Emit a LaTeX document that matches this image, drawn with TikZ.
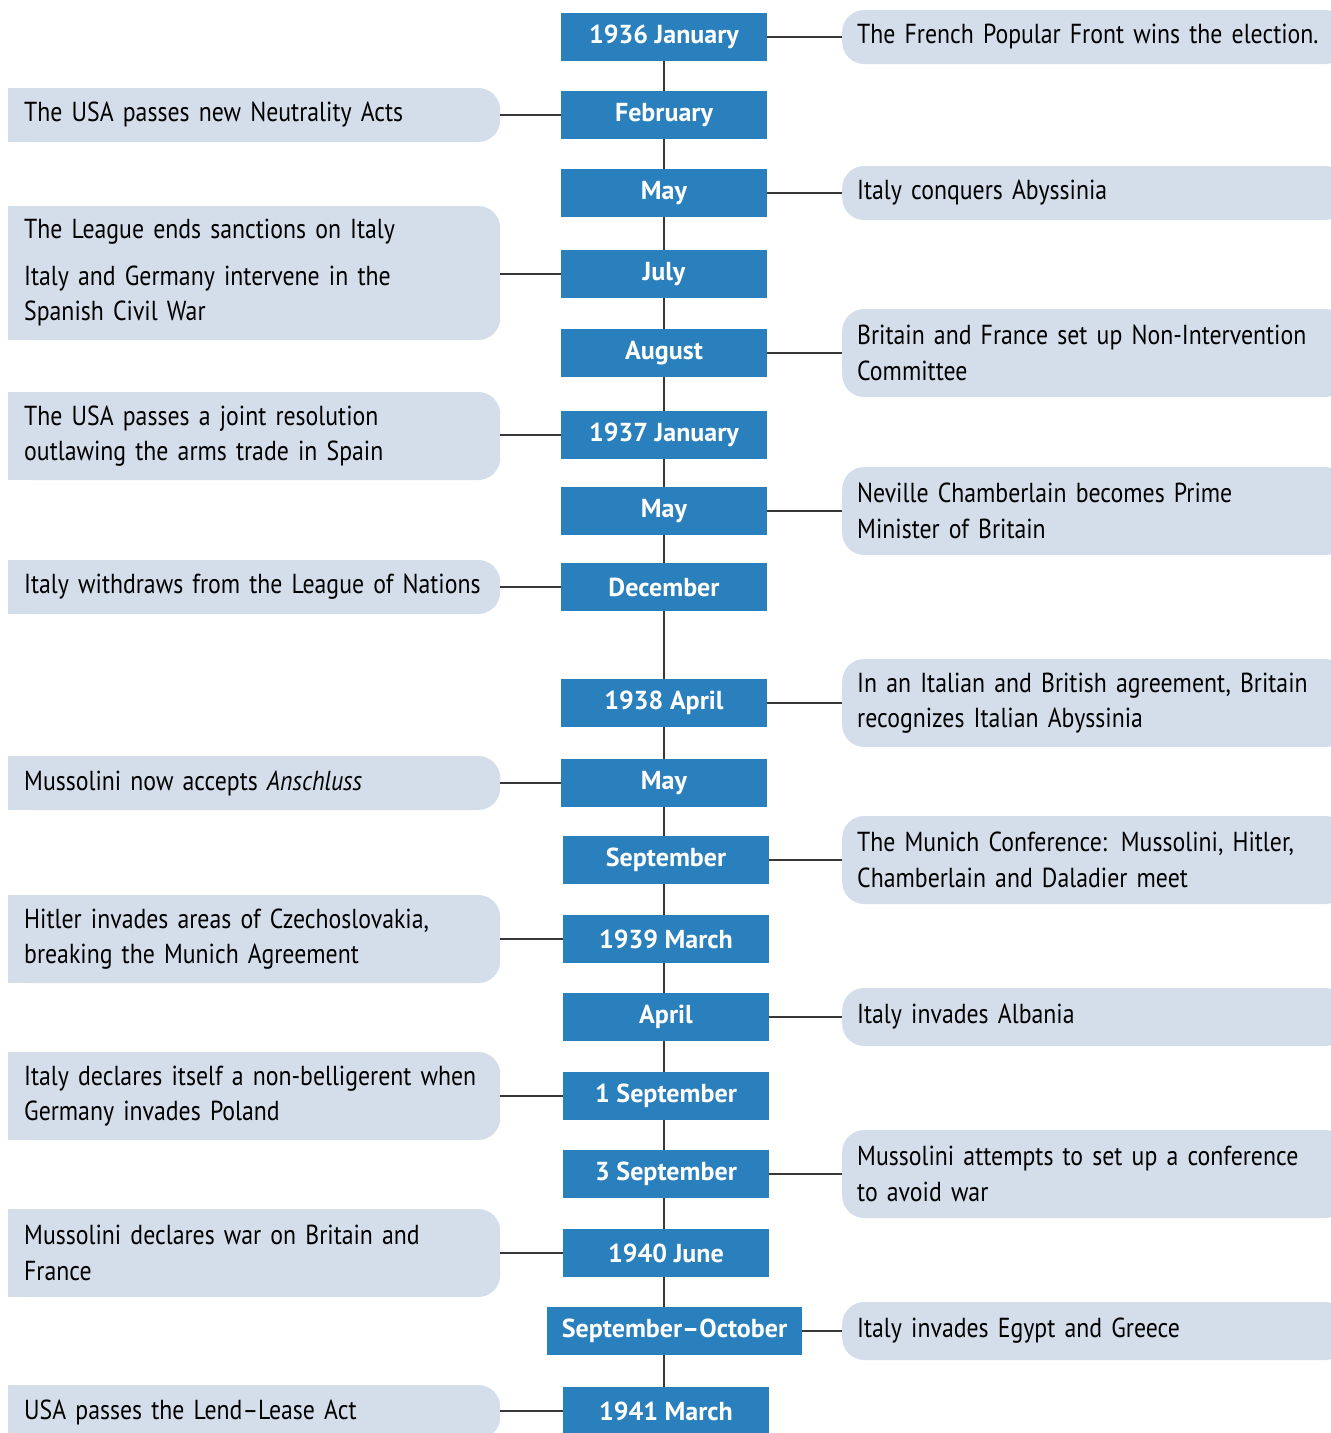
\documentclass[tikz,border=0pt]{standalone}
\usepackage{fontspec}
\setmainfont{PT Sans}[FakeStretch=0.865]
\newfontfamily\datefont{PT Sans}[Ligatures=TeX]
\usetikzlibrary{positioning,backgrounds}

\definecolor{dateblue}{RGB}{42,127,189}
\definecolor{eventbg}{RGB}{211,222,234}
\definecolor{linegray}{RGB}{55,55,55}

\begin{document}
\begin{tikzpicture}[
    x=1pt, y=-1pt,
    date/.style={rectangle, fill=dateblue, text=white, minimum width=206pt, minimum height=48pt, inner sep=0pt, font=\datefont\fontsize{26}{30}\selectfont\bfseries},
    leftev/.style={rectangle, rounded corners=22pt, fill=eventbg, anchor=west, minimum width=492pt, minimum height=54pt, inner xsep=4pt, text width=484pt, align=left, execute at begin node={\leftskip=12pt}, font=\fontsize{27.5}{35.5}\selectfont},
    rightev/.style={leftev, minimum width=505pt, text width=497pt, execute at begin node={\leftskip=11pt}},
    tall/.style={minimum height=88pt},
    link/.style={draw=linegray, line width=2pt},
]
\useasboundingbox (0,0) rectangle (1331,1433);

% Dates
\node[date] (d1) at (664,37) {1936 January};
\node[date] (d2) at (664,115) {February};
\node[date] (d3) at (664,193) {May};
\node[date] (d4) at (664,274) {July};
\node[date] (d5) at (664,353) {August};
\node[date] (d6) at (664,435) {1937 January};
\node[date] (d7) at (664,511) {May};
\node[date] (d8) at (664,587) {December};
\node[date] (d9) at (664,703) {1938 April};
\node[date] (d10) at (664,783) {May};
\node[date] (d11) at (666,860) {September};
\node[date] (d12) at (666,939) {1939 March};
\node[date] (d13) at (666,1017) {April};
\node[date] (d14) at (666,1096) {1 September};
\node[date] (d15) at (666,1174) {3 September};
\node[date] (d16) at (666,1253) {1940 June};
\node[date, minimum width=255pt] (d17) at (674.5,1331) {September--October};
\node[date] (d18) at (666,1411) {1941 March};

% Left events
\node[leftev] (l1) at (8,115) {The USA passes new Neutrality Acts};
\node[leftev, minimum height=134pt] (l2) at (8,273) {The League ends sanctions on Italy\\[11pt]Italy and Germany intervene in the\\Spanish Civil War};
\node[leftev, tall] (l3) at (8,436) {The USA passes a joint resolution\\outlawing the arms trade in Spain};
\node[leftev] (l4) at (8,587) {Italy withdraws from the League of Nations};
\node[leftev] (l5) at (8,783) {Mussolini now accepts \emph{Anschluss}};
\node[leftev, tall] (l6) at (8,939) {Hitler invades areas of Czechoslovakia,\\breaking the Munich Agreement};
\node[leftev, tall] (l7) at (8,1096) {Italy declares itself a non-belligerent when\\Germany invades Poland};
\node[leftev, tall] (l8) at (8,1253) {Mussolini declares war on Britain and\\France};
\node[leftev] (l9) at (8,1412) {USA passes the Lend--Lease Act};

% Right events
\node[rightev] (r1) at (842,37) {The French Popular Front wins the election.};
\node[rightev] (r2) at (842,193) {Italy conquers Abyssinia};
\node[rightev, tall] (r3) at (842,353) {Britain and France set up Non-Intervention\\Committee};
\node[rightev, tall] (r4) at (842,511) {Neville Chamberlain becomes Prime\\Minister of Britain};
\node[rightev, tall] (r5) at (842,703) {In an Italian and British agreement, Britain\\recognizes Italian Abyssinia};
\node[rightev, tall] (r6) at (842,860) {The Munich Conference: Mussolini, Hitler,\\Chamberlain and Daladier meet};
\node[rightev, minimum height=58pt] (r7) at (842,1017) {Italy invades Albania};
\node[rightev, tall] (r8) at (842,1174) {Mussolini attempts to set up a conference\\to avoid war};
\node[rightev, minimum height=58pt] (r9) at (842,1331) {Italy invades Egypt and Greece};

% square off the outer corners
\begin{scope}[on background layer]
\foreach \n in {l1,l2,l3,l4,l5,l6,l7,l8,l9}
  \fill[eventbg] (\n.north west) rectangle ([xshift=30pt]\n.south west);
\end{scope}

% Timeline
\foreach \a/\b in {d1/d2,d2/d3,d3/d4,d4/d5,d5/d6,d6/d7,d7/d8,d8/d9,d9/d10,d10/d11,d11/d12,d12/d13,d13/d14,d14/d15,d15/d16,d16/d17,d17/d18}
  \draw[link] (\a.south -| d1) -- (\b.north -| d1);

% Links
\foreach \d/\e in {d2/l1,d4/l2,d6/l3,d8/l4,d10/l5,d12/l6,d14/l7,d16/l8,d18/l9}
  \draw[link] (\d.west) -- (\d.west -| \e.east);
\foreach \d/\e in {d1/r1,d3/r2,d5/r3,d7/r4,d9/r5,d11/r6,d13/r7,d15/r8,d17/r9}
  \draw[link] (\d.east) -- (\d.east -| \e.west);

\end{tikzpicture}
\end{document}
